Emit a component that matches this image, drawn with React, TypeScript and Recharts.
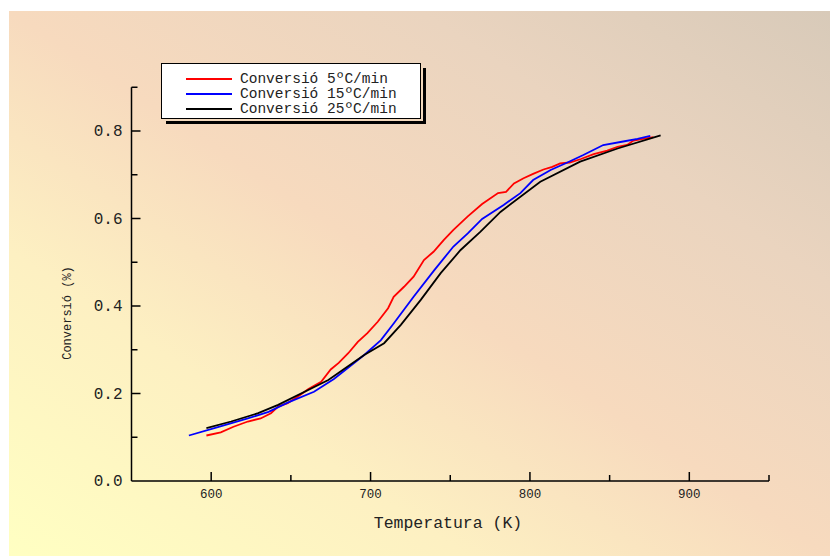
import React from "react";
import { LineChart, Line, XAxis, YAxis } from "recharts";

type Pt = { t: number; v: number };

// Conversió 5ºC/min
const temp5 = [597, 606, 614, 623, 631, 637.5, 642, 648, 654.5, 661, 669, 675, 680, 686, 692, 698, 704.5, 711, 714.5, 721, 727, 733.5, 739.5, 746, 752, 761, 770, 780, 785, 790, 796, 802, 808.5, 814, 819, 825, 832, 840, 848.5, 855, 861, 865, 871, 877.5];
const conv5 = [0.104, 0.111, 0.124, 0.136, 0.143, 0.155, 0.17, 0.178, 0.193, 0.21, 0.227, 0.255, 0.27, 0.292, 0.318, 0.338, 0.364, 0.395, 0.421, 0.444, 0.467, 0.505, 0.524, 0.551, 0.574, 0.605, 0.633, 0.658, 0.661, 0.68, 0.692, 0.702, 0.712, 0.718, 0.726, 0.728, 0.736, 0.747, 0.755, 0.764, 0.768, 0.778, 0.782, 0.786];

// Conversió 15ºC/min
const temp15 = [586, 602, 623, 636, 648, 664.5, 677, 696, 706.5, 714.5, 727, 740, 752, 761, 770, 783.5, 794, 802, 813, 823.5, 833.5, 846, 858.5, 867.5, 875.5];
const conv15 = [0.104, 0.121, 0.143, 0.158, 0.179, 0.204, 0.233, 0.288, 0.322, 0.36, 0.421, 0.482, 0.536, 0.566, 0.599, 0.631, 0.658, 0.688, 0.711, 0.728, 0.745, 0.768, 0.776, 0.782, 0.789];

// Conversió 25ºC/min
const temp25 = [597, 612.5, 629.5, 642, 673.5, 696, 708.5, 719, 731.5, 744, 756.5, 769, 781.5, 806.5, 831.5, 855, 882];
const conv25 = [0.121, 0.136, 0.155, 0.174, 0.231, 0.288, 0.315, 0.357, 0.414, 0.475, 0.528, 0.57, 0.615, 0.684, 0.73, 0.76, 0.79];

const xTicks = [550, 600, 650, 700, 750, 800, 850, 900, 950];
const yTicks = [0, 0.1, 0.2, 0.3, 0.4, 0.5, 0.6, 0.7, 0.8, 0.9];

const seriesNames = ["Conversió 5ºC/min", "Conversió 15ºC/min", "Conversió 25ºC/min"];
const seriesColors = ["#ff0000", "#0000ff", "#000000"];

const zip = (ts: number[], vs: number[]): Pt[] => ts.map((t, i) => ({ t, v: vs[i] }));
const series = [zip(temp5, conv5), zip(temp15, conv15), zip(temp25, conv25)];

const W = 831;
const H = 556;
const PLOT = { left: 131.5, right: 769, top: 87.25, bottom: 481 };
const Y_AXIS_W = 60;
const X_AXIS_H = 40;
const FONT = '"Liberation Mono", "Courier New", monospace';
const INK = "#222";

function XTick(props: any) {
  const { x, payload } = props;
  const v = payload.value;
  if (v === 550) return <g />;
  const major = v % 100 === 0;
  return (
    <g>
      <line x1={x} x2={x} y1={PLOT.bottom} y2={PLOT.bottom - (major ? 9 : 6)} stroke="#000" strokeWidth={1.5} />
      {major && (
        <text x={x} y={PLOT.bottom + 16.5} textAnchor="middle" fontFamily={FONT} fontSize={12.5} fill={INK}>
          {v}
        </text>
      )}
    </g>
  );
}

function YTick(props: any) {
  const { y, payload } = props;
  const v = payload.value;
  const k = Math.round(v * 10);
  const major = k % 2 === 0;
  return (
    <g>
      {k > 0 && (
        <line x1={PLOT.left} x2={PLOT.left + (major ? 9 : 6)} y1={y} y2={y} stroke="#000" strokeWidth={1.5} />
      )}
      {major && (
        <text x={PLOT.left - 9} y={y + 5} textAnchor="end" fontFamily={FONT} fontSize={16} fill={INK}>
          {v.toFixed(1)}
        </text>
      )}
    </g>
  );
}

export default function App() {
  return (
    <div style={{ position: "absolute", left: 0, top: 0, width: W, height: H, fontFamily: FONT, color: INK }}>
      <div
        style={{
          position: "absolute",
          left: 9,
          top: 11,
          width: 821,
          height: 545,
          background:
            "linear-gradient(to top right, #ffffc2 0%, #fdf0c2 28%, #f7dabe 50%, #ead4bf 75%, #d8cab9 100%)",
        }}
      />
      <div style={{ position: "absolute", left: 0, top: 0 }}>
        <LineChart
          width={W}
          height={H}
          margin={{
            top: PLOT.top,
            right: W - PLOT.right,
            bottom: H - PLOT.bottom - X_AXIS_H,
            left: PLOT.left - Y_AXIS_W,
          }}
        >
          <XAxis
            dataKey="t"
            type="number"
            domain={[550, 950]}
            ticks={xTicks}
            interval={0}
            height={X_AXIS_H}
            tickLine={false}
            axisLine={{ stroke: "#000", strokeWidth: 1.5 }}
            tick={<XTick />}
            allowDataOverflow
          />
          <YAxis
            dataKey="v"
            type="number"
            domain={[0, 0.9]}
            ticks={yTicks}
            interval={0}
            width={Y_AXIS_W}
            tickLine={false}
            axisLine={{ stroke: "#000", strokeWidth: 1.5 }}
            tick={<YTick />}
            allowDataOverflow
          />
          {series.map((d, i) => (
            <Line
              key={seriesNames[i]}
              data={d}
              dataKey="v"
              name={seriesNames[i]}
              type="linear"
              stroke={seriesColors[i]}
              strokeWidth={1.8}
              dot={false}
              activeDot={false}
              isAnimationActive={false}
            />
          ))}
        </LineChart>
      </div>

      {/* legend box with offset shadow */}
      <div
        style={{
          position: "absolute",
          left: 161,
          top: 63,
          width: 258,
          height: 54,
          background: "#fff",
          border: "1.5px solid #000",
          boxShadow: "2px 2px 0 #f3d9bd, 5px 5px 0 #000",
        }}
      >
        {seriesNames.map((n, i) => (
          <div
            key={n}
            style={{
              position: "absolute",
              left: 24,
              top: 7.5 + i * 15,
              height: 15,
              display: "flex",
              alignItems: "center",
              whiteSpace: "nowrap",
            }}
          >
            <span style={{ display: "inline-block", width: 46, height: 2, background: seriesColors[i], marginRight: 8 }} />
            <span style={{ fontSize: 14.5, lineHeight: "15px" }}>{n}</span>
          </div>
        ))}
      </div>

      <div
        style={{
          position: "absolute",
          left: 448,
          top: 523,
          transform: "translate(-50%, -50%)",
          fontSize: 16.5,
          whiteSpace: "nowrap",
        }}
      >
        Temperatura (K)
      </div>
      <div
        style={{
          position: "absolute",
          left: 68,
          top: 313,
          transform: "translate(-50%, -50%) rotate(-90deg)",
          fontSize: 12,
          whiteSpace: "nowrap",
        }}
      >
        Conversió (%)
      </div>
    </div>
  );
}
